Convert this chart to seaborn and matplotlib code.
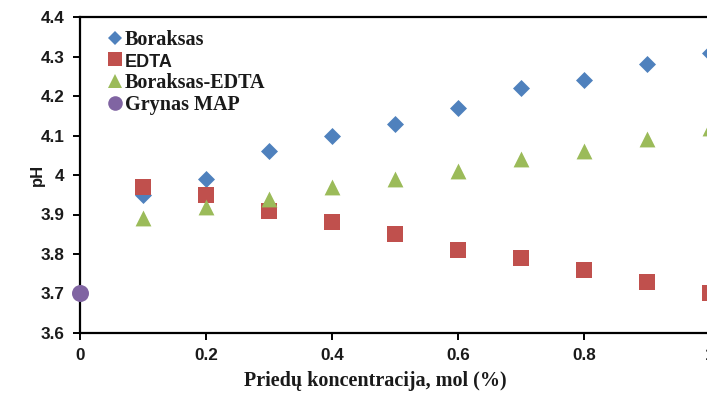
import matplotlib
matplotlib.use("Agg")
import matplotlib.pyplot as plt
from matplotlib.lines import Line2D
import seaborn as sns
import pandas as pd

# Additive concentration, mol (%)
conc = [0.1, 0.2, 0.3, 0.4, 0.5, 0.6, 0.7, 0.8, 0.9, 1.0]
ph_boraksas = [3.95, 3.99, 4.06, 4.10, 4.13, 4.17, 4.22, 4.24, 4.28, 4.31]
ph_edta = [3.97, 3.95, 3.91, 3.88, 3.85, 3.81, 3.79, 3.76, 3.73, 3.70]
ph_boraksas_edta = [3.89, 3.92, 3.94, 3.97, 3.99, 4.01, 4.04, 4.06, 4.09, 4.12]
conc_pure = [0.0]
ph_pure = [3.70]

labels = ["Boraksas", "EDTA", "Boraksas-EDTA", "Grynas MAP"]
colors = ["#4F81BD", "#C0504D", "#9BBB59", "#8064A2"]
markers = ["D", "s", "^", "o"]
sizes = [75, 135, 130, 150]

x_ticks = [0, 0.2, 0.4, 0.6, 0.8, 1.0]
x_tick_labels = ["0", "0.2", "0.4", "0.6", "0.8", "1"]
y_ticks = [3.6, 3.7, 3.8, 3.9, 4.0, 4.1, 4.2, 4.3, 4.4]
y_tick_labels = ["3.6", "3.7", "3.8", "3.9", "4", "4.1", "4.2", "4.3", "4.4"]

sns.set_theme(style="white")
plt.rcParams["font.family"] = ["Liberation Sans", "DejaVu Sans"]

W, H = 707, 394
fig = plt.figure(figsize=(W / 100, H / 100), dpi=100)
# plot area: x=0 at px 80, 0.2 per 126 px; y from 3.6 (px 333) to 4.4 (px 17)
ax = fig.add_axes([80 / W, (H - 333) / H, 756 / W, 316 / H])

series = [
    (conc, ph_boraksas),
    (conc, ph_edta),
    (conc, ph_boraksas_edta),
    (conc_pure, ph_pure),
]
for (xs, ys), lab, col, mk, sz in zip(series, labels, colors, markers, sizes):
    df = pd.DataFrame({"x": xs, "y": ys})
    sns.scatterplot(data=df, x="x", y="y", ax=ax, color=col, marker=mk,
                    s=sz, linewidth=0, clip_on=False, zorder=3, legend=False)

ax.set_xlim(0, 1.2)
ax.set_ylim(3.6, 4.4)
ax.set_xticks(x_ticks)
ax.set_xticklabels(x_tick_labels)
ax.set_yticks(y_ticks)
ax.set_yticklabels(y_tick_labels)

for side in ["left", "bottom", "top"]:
    ax.spines[side].set_visible(True)
    ax.spines[side].set_color("black")
    ax.spines[side].set_linewidth(1.6)
ax.spines["right"].set_visible(False)

ax.tick_params(axis="both", which="major", direction="out", length=5,
               width=1.4, color="black", labelsize=12.3, labelcolor="#1a1a1a",
               left=True, bottom=True, pad=6)
for t in ax.get_xticklabels() + ax.get_yticklabels():
    t.set_fontweight("bold")

ax.set_xlabel("Priedų koncentracija, mol (%)", fontsize=14.5,
              fontweight="bold", family=["Liberation Serif", "DejaVu Serif"],
              color="#1a1a1a")
ax.xaxis.set_label_coords((375 - 80) / 756, (333 - 381) / 316)
ax.xaxis.label.set_va("center")

ax.set_ylabel("pH", fontsize=12, fontweight="bold", color="#1a1a1a")
ax.yaxis.set_label_coords((37 - 80) / 756, 0.5)
ax.yaxis.label.set_va("center")

handles = [Line2D([], [], linestyle="none", marker=mk, color=col,
                  markersize=ms, markeredgewidth=0)
           for mk, col, ms in zip(markers, colors, [7, 10, 10.5, 10.5])]
leg = ax.legend(handles, labels, loc="upper left",
                bbox_to_anchor=(108 / W, (H - 30) / H),
                bbox_transform=fig.transFigure, frameon=False,
                prop={"family": ["Liberation Serif", "DejaVu Serif"],
                      "weight": "bold", "size": 14.5},
                handlelength=0.7, handletextpad=0.15, labelspacing=0.12,
                borderaxespad=0, borderpad=0)
for t in leg.get_texts():
    t.set_color("#1a1a1a")
leg.get_texts()[1].set_family(["Liberation Sans", "DejaVu Sans"])
leg.get_texts()[1].set_size(13)

fig.savefig("out.png", dpi=100)
